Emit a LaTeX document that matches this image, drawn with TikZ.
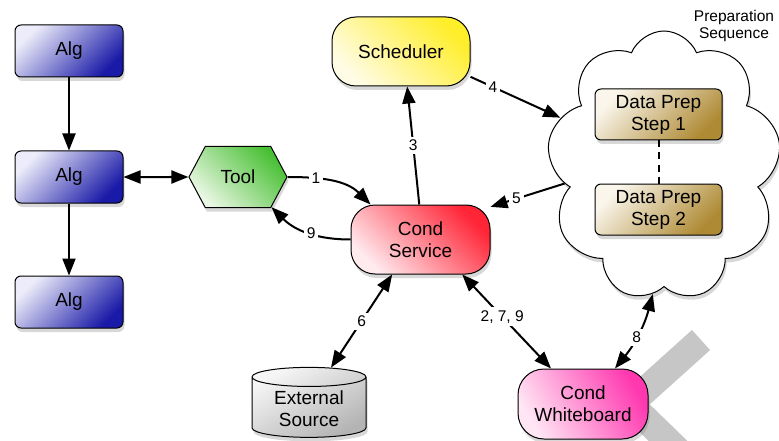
\documentclass[tikz,border=0pt]{standalone}
\usepackage{fontspec}
\setmainfont{Liberation Sans}
\usetikzlibrary{arrows.meta,shapes.geometric,shapes.symbols,shadows}

\definecolor{alglight}{HTML}{ECECFA}
\definecolor{algdark}{HTML}{1A1AA8}
\definecolor{toollight}{HTML}{EAF7E4}
\definecolor{tooldark}{HTML}{48C034}
\definecolor{schedlight}{HTML}{FFFCE6}
\definecolor{scheddark}{HTML}{FFEE2A}
\definecolor{condlight}{HTML}{FFEAEE}
\definecolor{conddark}{HTML}{FF2436}
\definecolor{wblight}{HTML}{FFE6F4}
\definecolor{wbdark}{HTML}{FF38B0}
\definecolor{steplight}{HTML}{FAF6EC}
\definecolor{stepdark}{HTML}{AE8A34}
\definecolor{extlight}{HTML}{F6F6F6}
\definecolor{extdark}{HTML}{B4B4B4}

\begin{document}
\begin{tikzpicture}[
x=1pt, y=-1pt,
every node/.style={font=\fontsize{19}{22}\selectfont, align=center},
shadowed/.style={drop shadow={shadow xshift=1.5pt, shadow yshift=-4pt, opacity=0.3}},
algbox/.style={shadowed, draw, line width=1pt, rounded corners=6pt, minimum width=108pt, minimum height=52pt,
  top color=alglight, bottom color=algdark, shading angle=45},
toolhex/.style={shadowed, draw, line width=1pt, signal, signal to=west and east, signal pointer angle=124,
  minimum width=98pt, minimum height=61pt, top color=tooldark, bottom color=toollight, shading angle=-45},
pill/.style={shadowed, draw, line width=1pt, rounded corners=24pt, shading angle=-45},
stepbox/.style={shadowed, draw, line width=1pt, rounded corners=6pt, minimum width=127pt, minimum height=51pt,
  top color=steplight, bottom color=stepdark, shading angle=45},
lbl/.style={fill=white, inner sep=3pt, font=\fontsize{15.5}{17}\selectfont},
arr/.style={line width=2pt, -{Triangle[length=17pt,width=13pt]}},
darr/.style={line width=2pt, {Triangle[length=17pt,width=13pt]}-{Triangle[length=17pt,width=13pt]}}
]
\useasboundingbox (0,0) rectangle (779,441);
\clip (0,0) rectangle (779,441);
\fill[white] (0,0) rectangle (779,441);
\draw[gray!45, line width=27pt, miter limit=4] (701,340) -- (630,404) -- (700,472);

\node[algbox] (alg1) at (69,51) {Alg};
\node[algbox] (alg2) at (69,177) {Alg};
\node[algbox] (alg3) at (69,302) {Alg};
\node[toolhex] (tool) at (238,177) {Tool};
\node[pill, minimum width=138pt, minimum height=69pt, top color=scheddark, bottom color=schedlight, shading angle=-45] (sched) at (401,51.5) {Scheduler};
\node[pill, minimum width=139pt, minimum height=69pt, top color=conddark, bottom color=condlight, shading angle=-45] (cs) at (420.5,239.5) {Cond\\Service};
\node[shadowed, draw, line width=1pt, fill=white, cloud, cloud puffs=9, cloud puff arc=135, aspect=0.9,
  minimum width=234pt, minimum height=270pt] (prep) at (664,166) {};
\node[font=\fontsize{15.5}{17}\selectfont] (prepname) at (734,26) {Preparation\\Sequence};
\node[stepbox] (step1) at (658.5,114.5) {Data Prep\\Step 1};
\node[stepbox] (step2) at (658.5,209.5) {Data Prep\\Step 2};
\node[shadowed, draw, line width=1pt, cylinder, shape border rotate=90, aspect=0.25, minimum width=114pt, minimum height=70pt,
  top color=extlight, bottom color=extdark, shading angle=30] (ext) at (309,409) {External\\Source};
\node[pill, rounded corners=26pt, minimum width=130pt, minimum height=70pt, top color=wbdark, bottom color=wblight, shading angle=-60] (wb) at (583,404) {Cond\\Whiteboard};

\draw[arr] (alg1) -- (alg2);
\draw[arr] (alg2) -- (alg3);
\draw[darr] (alg2) -- (tool);
\draw[line width=2pt, dashed, dash pattern=on 7pt off 5pt] (step1) -- (step2);
\draw[arr] (tool.east) to[out=0, in=135] node[lbl, pos=0.3] {1} (cs.145);
\draw[arr] (cs.west) to[out=180, in=-45] node[lbl, pos=0.45] {9} (tool.-42);
\draw[arr] (cs.92) -- node[lbl] {3} (sched.-80);
\draw[arr] (sched.-20) -- node[lbl, pos=0.25] {4} (prep.155);
\draw[arr] (prep.190) -- node[lbl, pos=0.65] {5} (cs.25);
\draw[darr] (cs.-129) -- node[lbl] {6} (ext.62);
\draw[darr] (cs.-40) -- node[lbl, pos=0.45] {2, 7, 9} (wb.132);
\draw[darr] (wb.48) to[bend right=12] node[lbl, pos=0.45] {8} (prep.-95);
\end{tikzpicture}
\end{document}
